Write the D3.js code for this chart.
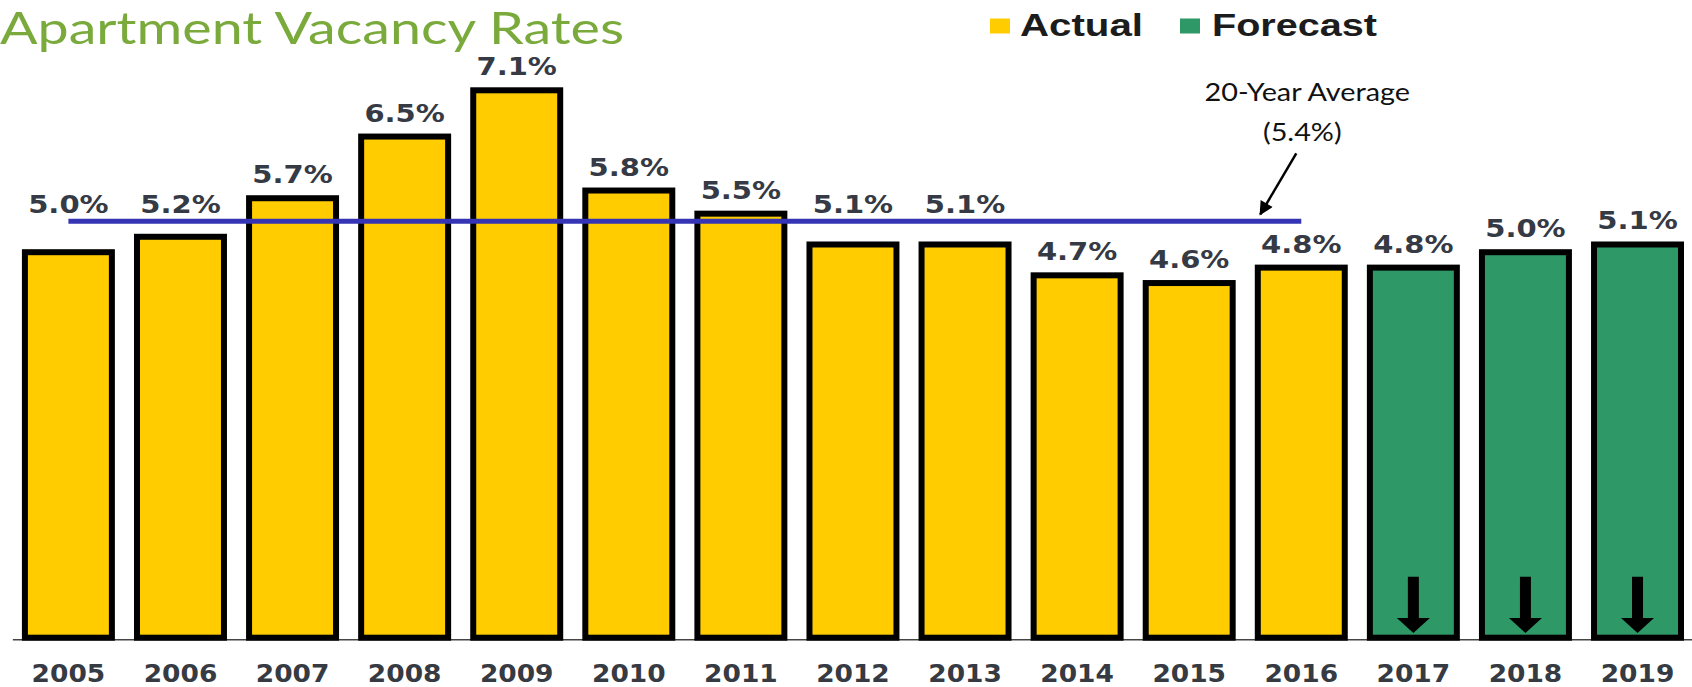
<!DOCTYPE html>
<html>
<head>
<meta charset="utf-8">
<script src="https://cdn.jsdelivr.net/npm/d3@7/dist/d3.min.js"></script>
<style>
  html, body { margin: 0; padding: 0; background: #ffffff; }
  svg { display: block; }
</style>
</head>
<body>
<svg id="chart" width="1692" height="687"></svg>
<script>
// Apartment vacancy rates, actual 2005–2016 and forecast 2017–2019 (percent)
const years = ["2005","2006","2007","2008","2009","2010","2011","2012","2013","2014","2015","2016","2017","2018","2019"];
const actualValues = [5.0, 5.2, 5.7, 6.5, 7.1, 5.8, 5.5, 5.1, 5.1, 4.7, 4.6, 4.8];
const forecastValues = [4.8, 5.0, 5.1];
const averageRate = 5.4;
const averageLabel = ["20-Year Average", "(5.4%)"];
const seriesNames = ["Actual", "Forecast"];
const titleText = "Apartment Vacancy Rates";

const colors = { Actual: "#ffcc00", Forecast: "#2e9866" };

const rows = years.map((year, i) => {
  const isActual = i < actualValues.length;
  return {
    year,
    value: isActual ? actualValues[i] : forecastValues[i - actualValues.length],
    kind: isActual ? "Actual" : "Forecast"
  };
});

const svg = d3.select("#chart");

const x = d3.scaleBand()
  .domain(years)
  .range([12.36, 1693.56])
  .paddingInner(0.224)
  .paddingOuter(0.112);
const bw = x.bandwidth();
const cx = d => x(d) + bw / 2;

const y = d3.scaleLinear().domain([0, 8]).range([637.7, 637.7 - 8 * 77.1]);

// Title
svg.append("text")
  .attr("x", 0)
  .attr("y", 44)
  .attr("textLength", 624)
  .attr("lengthAdjust", "spacingAndGlyphs")
  .style("font-family", "Lato, 'Open Sans', sans-serif")
  .style("font-size", "44px")
  .style("fill", "#79aa3b")
  .text(titleText);

// Legend
const legendItems = [
  { name: seriesNames[0], sx: 990, tx: 1020, tl: 123 },
  { name: seriesNames[1], sx: 1180, tx: 1212, tl: 165 }
];
const legend = svg.append("g");
legend.selectAll("rect")
  .data(legendItems)
  .join("rect")
  .attr("x", d => d.sx)
  .attr("y", 18.5)
  .attr("width", 20)
  .attr("height", 15)
  .attr("fill", d => colors[d.name]);
legend.selectAll("text")
  .data(legendItems)
  .join("text")
  .attr("x", d => d.tx)
  .attr("y", 36)
  .attr("textLength", d => d.tl)
  .attr("lengthAdjust", "spacingAndGlyphs")
  .style("font-family", "'Liberation Sans', Arial, sans-serif")
  .style("font-weight", "bold")
  .style("font-size", "32px")
  .style("fill", "#1c1c1c")
  .text(d => d.name);

// X axis: baseline and year labels
const xAxis = svg.append("g")
  .attr("transform", "translate(0,639.3)")
  .call(d3.axisBottom(x).tickSize(0).tickSizeOuter(0).tickPadding(25));
xAxis.select(".domain").attr("stroke", "#444").attr("stroke-width", 1.5);
xAxis.selectAll(".tick text")
  .attr("transform", "scale(1.08,1)")
  .style("font-family", "'DejaVu Sans', Verdana, sans-serif")
  .style("font-weight", "bold")
  .style("font-size", "24.5px")
  .style("fill", "#363a42");

// Bars
svg.append("g")
  .selectAll("rect")
  .data(rows)
  .join("rect")
  .attr("x", d => x(d.year))
  .attr("y", d => y(d.value))
  .attr("width", bw)
  .attr("height", d => y(0) - y(d.value))
  .attr("fill", d => colors[d.kind])
  .attr("stroke", "#000")
  .attr("stroke-width", 6);

// Downward arrows inside forecast bars
const arrowPath = d => {
  const c = cx(d.year), b = y(0);
  const top = b - 61, headBase = b - 19.7, tip = b - 4.7;
  const sw = 5.5, hw = 16.5;
  return `M${c - sw},${top}H${c + sw}V${headBase}H${c + hw}L${c},${tip}L${c - hw},${headBase}H${c - sw}Z`;
};
svg.append("g")
  .selectAll("path")
  .data(rows.filter(d => d.kind === "Forecast"))
  .join("path")
  .attr("d", arrowPath)
  .attr("fill", "#000");

// 20-year average line
const avgY = y(averageRate);
const avgX1 = cx(years[0]);
const avgX2 = cx(years[actualValues.length - 1]);
const lineTop = avgY - 2.5, lineBottom = avgY + 2.5;
svg.append("line")
  .attr("x1", avgX1)
  .attr("x2", avgX2)
  .attr("y1", avgY)
  .attr("y2", avgY)
  .attr("stroke", "#3434b4")
  .attr("stroke-width", 5);

// Value labels above bars; lifted above the average line where they would cross it
const capH = 18.3;
const labelBaseline = d => {
  let base = y(d.value) - 3 - 12;
  const c = cx(d.year);
  const inLine = c >= avgX1 - bw / 2 && c <= avgX2 + bw / 2;
  if (inLine && base > lineTop - 2 && base - capH < lineBottom + 2) {
    base = lineTop - 6;
  }
  return base;
};
svg.append("g")
  .selectAll("text")
  .data(rows)
  .join("text")
  .attr("transform", d => `translate(${cx(d.year)},${labelBaseline(d)}) scale(1.16,1)`)
  .attr("text-anchor", "middle")
  .style("font-family", "'DejaVu Sans', Verdana, sans-serif")
  .style("font-weight", "bold")
  .style("font-size", "25px")
  .style("fill", "#353a44")
  .text(d => d.value.toFixed(1) + "%");

// Annotation for the average line
const defs = svg.append("defs");
defs.append("marker")
  .attr("id", "arrowhead")
  .attr("viewBox", "0 0 10 10")
  .attr("refX", 9)
  .attr("refY", 5)
  .attr("markerUnits", "userSpaceOnUse")
  .attr("markerWidth", 16)
  .attr("markerHeight", 14)
  .attr("orient", "auto")
  .append("path")
  .attr("d", "M0,0L10,5L0,10Z")
  .attr("fill", "#000");

svg.append("line")
  .attr("x1", avgX2 - 5)
  .attr("y1", avgY - 68)
  .attr("x2", avgX2 - 41)
  .attr("y2", avgY - 7)
  .attr("stroke", "#000")
  .attr("stroke-width", 2.5)
  .attr("marker-end", "url(#arrowhead)");

svg.append("g")
  .selectAll("text")
  .data(averageLabel)
  .join("text")
  .attr("transform", (d, i) => `translate(${avgX2 + (i === 0 ? 6 : 1)},${avgY - 120 + i * 40}) scale(1.13,1)`)
  .attr("text-anchor", "middle")
  .style("font-family", "Lato, 'Open Sans', sans-serif")
  .style("font-size", "25.5px")
  .style("fill", "#111")
  .text(d => d);
</script>
</body>
</html>
